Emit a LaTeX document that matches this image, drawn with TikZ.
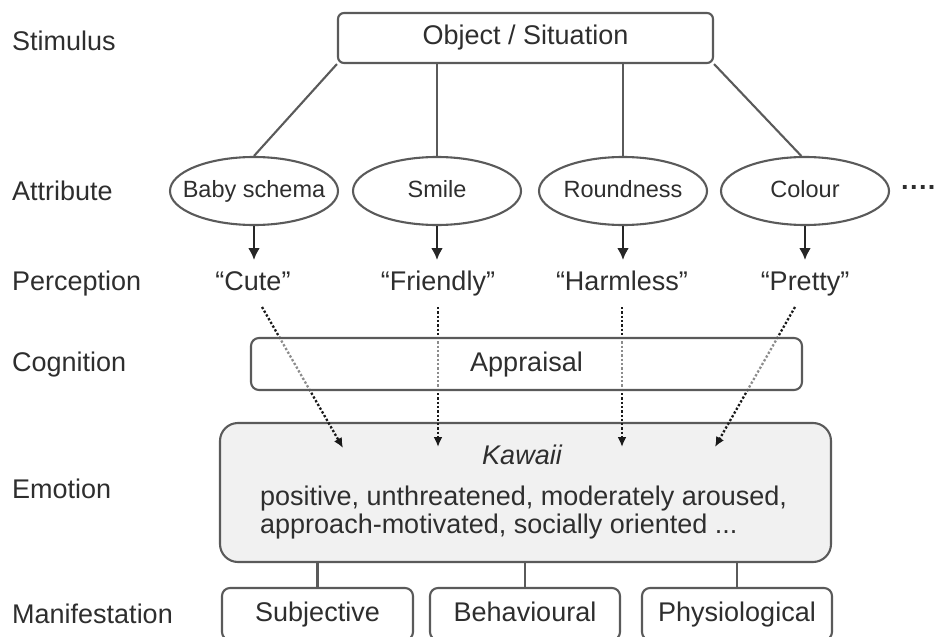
\documentclass[tikz,border=0pt]{standalone}
\usepackage{fontspec}
\setmainfont{Liberation Sans}
\usetikzlibrary{shapes.geometric,arrows.meta,positioning}
\definecolor{linegray}{HTML}{5A5A5A}
\definecolor{txtgray}{HTML}{2E2E2E}
\definecolor{emofill}{HTML}{F1F1F1}
\newcommand{\bigfont}{\fontsize{27}{28}\selectfont}
\newcommand{\smallfont}{\fontsize{23.5}{25}\selectfont}
\tikzset{
    levelsty/.style={anchor=base west, inner sep=0pt, text=txtgray, font=\bigfont},
    boxsty/.style={draw=linegray, line width=2.1pt, rounded corners=6pt, fill=white, text=txtgray, font=\bigfont, inner sep=0pt, text height=19pt, text depth=5pt},
    ellsty/.style={draw=linegray, line width=2.1pt, ellipse, minimum width=168pt, minimum height=68pt, inner sep=0pt},
    ellabelsty/.style={inner sep=0pt, text=txtgray, font=\smallfont, text height=17pt, text depth=5pt},
    percsty/.style={anchor=base, inner sep=0pt, outer sep=10pt, text height=20pt, text depth=7pt, text=txtgray, font=\bigfont},
    linksty/.style={draw=linegray, line width=2.1pt},
    solidsty/.style={draw=black!85, line width=2.3pt, -{Latex[length=12pt,width=12pt]}},
    dotsty/.style={draw=black!90, line width=2.3pt, dash pattern=on 2.3pt off 2pt, -{Latex[length=10pt,width=9pt]}},
}

\begin{document}
\begin{tikzpicture}[x=1pt, y=-1pt]
  \useasboundingbox (0,0) rectangle (938,637);

  \node[levelsty] (lstim) at (12,50)  {Stimulus};
  \node[levelsty] (lattr) at (12,200) {Attribute};
  \node[levelsty] (lperc) at (12,290) {Perception};
  \node[levelsty] (lcogn) at (12,371) {Cognition};
  \node[levelsty] (lemot) at (12,498) {Emotion};
  \node[levelsty] (lmani) at (12,623) {Manifestation};

  \node[boxsty, minimum width=375pt, minimum height=50pt] (obj) at (525.5,38) {Object / Situation};

  \node[ellsty, label={[ellabelsty]center:Baby schema}] (e1) at (254,191) {};
  \node[ellsty, label={[ellabelsty]center:Smile}] (e2) at (437,191) {};
  \node[ellsty, label={[ellabelsty]center:Roundness}] (e3) at (623,191) {};
  \node[ellsty, label={[ellabelsty]center:Colour}] (e4) at (805,191) {};
  \node[inner sep=0pt, text=txtgray, font=\bigfont\bfseries] (more) at (919,191) {····};

  \draw[linksty] (obj.south west) -- (e1.north);
  \draw[linksty] (e2.north |- obj.south) -- (e2.north);
  \draw[linksty] (e3.north |- obj.south) -- (e3.north);
  \draw[linksty] (obj.south east) -- (e4.96);

  \node[percsty] (p1) at (253,290) {“Cute”};
  \node[percsty] (p2) at (438,290) {“Friendly”};
  \node[percsty] (p3) at (622,290) {“Harmless”};
  \node[percsty] (p4) at (805,290) {“Pretty”};

  \foreach \i in {1,...,4}
    \draw[solidsty] (e\i.south) -- (e\i.south |- p\i.north);

  \node[boxsty, fill=emofill, rounded corners=18pt, minimum width=611pt, minimum height=139pt] (emo) at (525.5,492.5) {};
  \node[anchor=base, inner sep=0pt, text=txtgray, font=\bigfont\itshape] (kawaii) at (522,464) {Kawaii};
  \node[levelsty] (emoa) at (260,505) {positive, unthreatened, moderately aroused,};
  \node[levelsty] (emob) at (260,533) {approach-motivated, socially oriented ...};

  \coordinate (k1) at (343,448);
  \coordinate (k2) at (438,447);
  \coordinate (k3) at (622,447);
  \coordinate (k4) at (715,447);

  \draw[dotsty] ([xshift=9pt]p1.south) -- (k1);
  \draw[dotsty] (p2.south) -- (p2.south |- k2);
  \draw[dotsty] (p3.south) -- (p3.south |- k3);
  \draw[dotsty] ([xshift=-10pt]p4.south) -- (k4);

  \node[boxsty, rounded corners=8pt, fill opacity=0.5, text opacity=1, minimum width=551pt, minimum height=52pt] (appr) at (526.5,364) {Appraisal};

  \node[boxsty, rounded corners=8pt, minimum width=191pt, minimum height=52pt] (m1) at (317.5,614) {Subjective};
  \node[boxsty, rounded corners=8pt, minimum width=190pt, minimum height=52pt] (m2) at (525,614) {Behavioural};
  \node[boxsty, rounded corners=8pt, minimum width=190pt, minimum height=52pt] (m3) at (737,614) {Physiological};

  \foreach \i in {1,2,3}
    \draw[linksty] (m\i.north) -- (m\i.north |- emo.south);
\end{tikzpicture}
\end{document}
